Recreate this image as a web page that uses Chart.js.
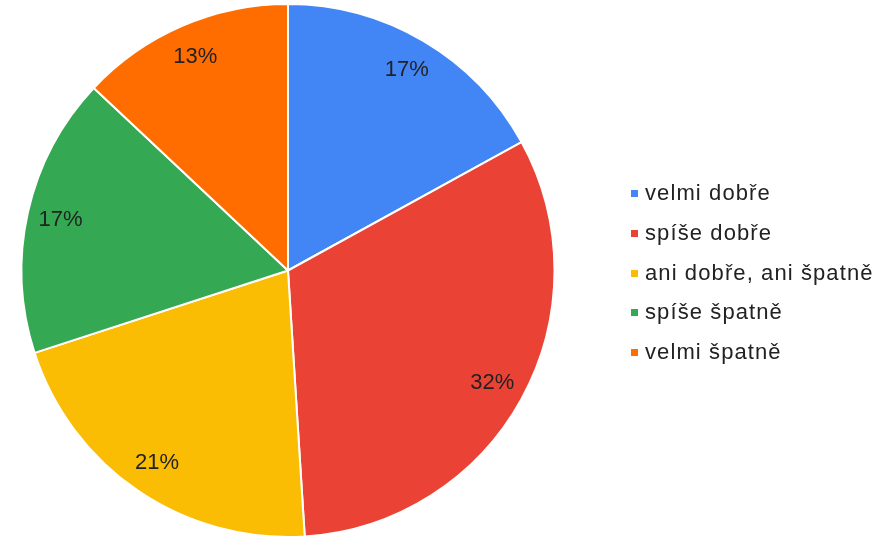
<!DOCTYPE html>
<html>
<head>
<meta charset="utf-8">
<script src="https://cdn.jsdelivr.net/npm/chart.js@4.4.1/dist/chart.umd.min.js"></script>
<style>
  html, body { margin: 0; padding: 0; background: #fff; }
  #wrap { position: relative; width: 892px; height: 542px; }
  #legend { position: absolute; left: 631px; top: 173px; font-family: "Liberation Sans", Arial, sans-serif; font-size: 22px; letter-spacing: 1.1px; color: #222; }
  #legend div { height: 39.75px; line-height: 40px; white-space: nowrap; }
  #legend span.box { display: inline-block; width: 7px; height: 7px; margin-right: 7px; vertical-align: 3px; }
</style>
</head>
<body>
<div id="wrap">
  <canvas id="myChart" width="892" height="542"></canvas>
  <div id="legend"></div>
</div>
<script>
const labels = ['velmi dobře', 'spíše dobře', 'ani dobře, ani špatně', 'spíše špatně', 'velmi špatně'];
const values = [17, 32, 21, 17, 13];
const colors = ['#4285F4', '#EA4335', '#FBBC04', '#34A853', '#FF6D01'];

// legend on the right
const legendDiv = document.getElementById('legend');
labels.forEach((name, i) => {
    const row = document.createElement('div');
    const box = document.createElement('span');
    box.className = 'box';
    box.style.background = colors[i];
    row.append(box);
    row.append(document.createTextNode(name));
    legendDiv.append(row);
});

// percentage text inside each slice
const sliceLabels = {
    id: 'sliceLabels',
    afterDatasetsDraw(chart) {
        const ctx = chart.ctx;
        const data = chart.data.datasets[0].data;
        const total = data.reduce((a, b) => a + b, 0);
        ctx.save();
        ctx.font = '22px "Liberation Sans", Arial, sans-serif';
        ctx.fillStyle = '#222';
        ctx.textAlign = 'center';
        ctx.textBaseline = 'middle';
        chart.getDatasetMeta(0).data.forEach((arc, i) => {
            const p = arc.getProps(['x', 'y', 'startAngle', 'endAngle', 'outerRadius'], true);
            const mid = (p.startAngle + p.endAngle) / 2;
            const r = p.outerRadius * 0.875;
            ctx.fillText(Math.round(data[i] / total * 100) + '%', p.x + Math.cos(mid) * r, p.y + Math.sin(mid) * r);
        });
        ctx.restore();
    }
};

const ctx = document.getElementById('myChart');
const myChart = new Chart(ctx, {
    type: 'pie',
    data: {
        labels: labels,
        datasets: [{
            data: values,
            backgroundColor: colors,
            borderColor: '#fff',
            borderWidth: 2
        }]
    },
    options: {
        responsive: false,
        animation: false,
        layout: { padding: { left: 20, right: 336, top: 3, bottom: 4 } },
        plugins: {
            legend: { display: false },
            tooltip: { enabled: false }
        }
    },
    plugins: [sliceLabels]
});
</script>
</body>
</html>
